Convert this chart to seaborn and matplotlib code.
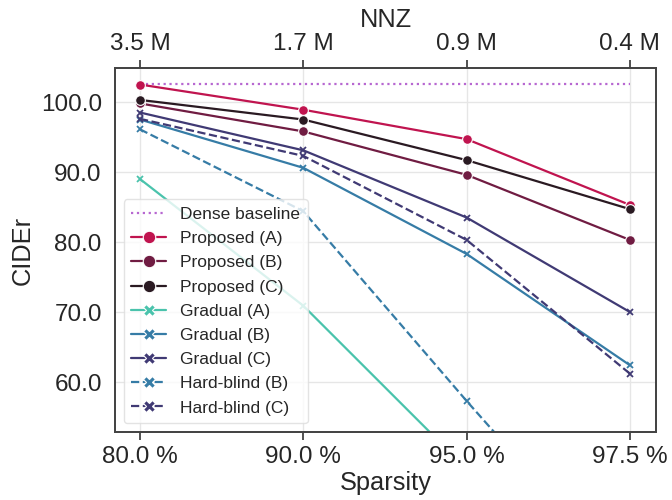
import matplotlib
matplotlib.use("Agg")
import matplotlib.pyplot as plt
from matplotlib.lines import Line2D
import seaborn as sns
import pandas as pd

sparsity = ["80.0 %", "90.0 %", "95.0 %", "97.5 %"]
nnz = ["3.5 M", "1.7 M", "0.9 M", "0.4 M"]

dense_baseline = [102.6, 102.6, 102.6, 102.6]
proposed_a = [102.5, 98.9, 94.7, 85.3]
proposed_b = [99.8, 95.8, 89.6, 80.3]
proposed_c = [100.3, 97.5, 91.7, 84.7]
gradual_a = [89.0, 70.9, 47.6, 30.0]
gradual_b = [97.5, 90.6, 78.3, 62.4]
gradual_c = [98.5, 93.1, 83.5, 70.0]
hardblind_b = [96.1, 84.4, 57.3, 31.0]
hardblind_c = [97.6, 92.3, 80.3, 61.2]

sns.set_theme(style="whitegrid")
plt.rcParams["font.family"] = ["Liberation Sans", "DejaVu Sans"]

fig = plt.figure(figsize=(6.72, 5.0), dpi=100)
ax = fig.add_axes([115/672, 1-432/500, (656-115)/672, (432-68)/500])

series = [
    ("Dense baseline", dense_baseline, "#b767d1", ":", None),
    ("Proposed (A)", proposed_a, "#c0144f", "-", "o"),
    ("Proposed (B)", proposed_b, "#701c42", "-", "o"),
    ("Proposed (C)", proposed_c, "#2a1a22", "-", "o"),
    ("Gradual (A)", gradual_a, "#4ac3ac", "-", "x"),
    ("Gradual (B)", gradual_b, "#367ca6", "-", "x"),
    ("Gradual (C)", gradual_c, "#403a74", "-", "x"),
    ("Hard-blind (B)", hardblind_b, "#367ca6", "--", "x"),
    ("Hard-blind (C)", hardblind_c, "#403a74", "--", "x"),
]

handles = []
for name, vals, color, ls, mk in series:
    df = pd.DataFrame({"Sparsity": sparsity, "CIDEr": vals})
    kw = dict(color=color, linestyle=ls, linewidth=1.6)
    if mk == "o":
        kw.update(marker="o", markersize=7, markeredgecolor="white", markeredgewidth=0.8)
    elif mk == "x":
        kw.update(marker="x", markersize=5, markeredgecolor=color, markeredgewidth=1.3)
    sns.lineplot(data=df, x="Sparsity", y="CIDEr", ax=ax, sort=False, **kw)
    if mk is None:
        h = Line2D([], [], color=color, linestyle=ls, linewidth=1.6)
    elif mk == "o":
        h = Line2D([], [], color=color, linestyle=ls, linewidth=1.6, marker="o",
                   markersize=9, markeredgecolor="white", markeredgewidth=0.8)
    else:
        h = Line2D([], [], color=color, linestyle=ls, linewidth=1.6, marker="X",
                   markersize=9, markeredgecolor="white", markeredgewidth=0.8)
    handles.append((h, name))

ax.set_xlim(-0.153, 3.16)
ax.set_ylim(52.86, 104.86)
ax.set_yticks([60, 70, 80, 90, 100])
ax.set_yticklabels(["60.0", "70.0", "80.0", "90.0", "100.0"])
ax.set_xlabel("Sparsity", fontsize=18.3, labelpad=2)
ax.set_ylabel("CIDEr", fontsize=18.3)
ax.tick_params(axis="both", labelsize=17.5, colors="#262626")
ax.tick_params(axis="x", bottom=True, length=6, width=1.2, color="#333333", pad=4)
ax.grid(True, color="#e6e6e6", linewidth=1.0)
for s in ax.spines.values():
    s.set_edgecolor("#444444")
    s.set_linewidth(1.3)

ax2 = ax.twiny()
ax2.set_xlim(ax.get_xlim())
ax2.set_xticks([0, 1, 2, 3])
ax2.set_xticklabels(nnz)
ax2.set_xlabel("NNZ", fontsize=18.3)
ax2.tick_params(axis="x", top=True, length=6, width=1.2, color="#333333",
                labelsize=17.5, colors="#262626")
ax2.grid(False)
for s in ax2.spines.values():
    s.set_edgecolor("#444444")
    s.set_linewidth(1.3)

leg = ax.legend([h for h, _ in handles], [n for _, n in handles], loc="lower left",
                fontsize=12.5, frameon=True, borderpad=0.45, labelspacing=0.52,
                handlelength=2.0, handletextpad=0.8, bbox_to_anchor=(0.0, 0.0))
leg.get_frame().set_edgecolor("#dddddd")
for t in leg.get_texts():
    t.set_color("#262626")

fig.savefig("out.png", dpi=100)
